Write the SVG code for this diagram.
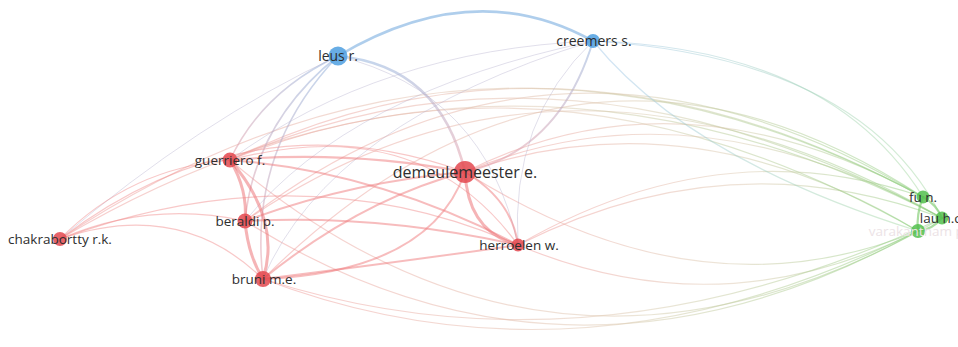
<svg xmlns="http://www.w3.org/2000/svg" width="958" height="347" viewBox="0 0 958 347">
<defs>
<linearGradient id="rg" x1="0" y1="0" x2="1" y2="0">
<stop offset="0" stop-color="#f19a9a"/>
<stop offset="0.55" stop-color="#dcc9b0"/>
<stop offset="1" stop-color="#8fd080"/>
</linearGradient>
<linearGradient id="bg" x1="0" y1="0" x2="1" y2="0">
<stop offset="0" stop-color="#9cc4ea"/>
<stop offset="1" stop-color="#9fd69a"/>
</linearGradient>
<linearGradient id="rb" x1="0" y1="1" x2="0" y2="0">
<stop offset="0" stop-color="#e9a0a8"/>
<stop offset="1" stop-color="#94b4de"/>
</linearGradient>
<style>
path{fill:none;stroke-linecap:round}
.r1{stroke:#f08486;stroke-width:1.2;opacity:.45}
.r2{stroke:#f07a7c;stroke-width:2;opacity:.5}
.r3{stroke:#ec6a6e;stroke-width:3;opacity:.5}
.rg{stroke:url(#rg);stroke-width:1.2;opacity:.5}
.bg{stroke:url(#bg);stroke-width:1.2;opacity:.45}
.rb{stroke:url(#rb);stroke-width:1.6;opacity:.55}
.rbt{stroke:#b4b0cc;stroke-width:1;opacity:.4}
.b3{stroke:#94bde6;stroke-width:2.6;opacity:.75}
.g2{stroke:#7fcc72;stroke-width:2.2;opacity:.65}
.nr{fill:#e3484f;opacity:.85}
.nb{fill:#4d9fe0;opacity:.85}
.ng{fill:#52bf4e;opacity:.85}
text{font-family:"Open Sans","Liberation Sans",sans-serif;font-size:13.5px;fill:#2e2e2e;text-anchor:middle}
</style>
</defs>
<g id="connectors">
<path class="rg" d="M230,160 Q560,0 923,197"/>
<path class="rg" d="M230,160 Q560,12 942,218"/>
<path class="rg" d="M230,160 Q560,28 918,231"/>
<path class="rg" d="M245,221 Q560,-22 923,197"/>
<path class="rg" d="M245,221 Q565,2 942,218"/>
<path class="rg" d="M263,279 Q575,-30 923,197"/>
<path class="rg" d="M60,239 Q480,-40 923,197"/>
<path class="rg" d="M60,239 Q490,-16 942,218"/>
<path class="rg" d="M465,172 Q680,64 923,197"/>
<path class="rg" d="M465,172 Q690,78 942,218"/>
<path class="rg" d="M465,172 Q690,94 918,231"/>
<path class="rg" d="M518,245 Q720,128 923,197"/>
<path class="rg" d="M518,245 Q730,138 942,218"/>
<path class="rg" d="M518,245 Q720,330 918,231"/>
<path class="rg" d="M465,172 Q700,320 918,231"/>
<path class="rg" d="M263,279 Q580,400 918,231"/>
<path class="rg" d="M263,279 Q590,384 942,218"/>
<path class="rg" d="M245,221 Q570,424 918,231"/>
<path class="rg" d="M230,160 Q560,440 942,218"/>
<path class="b3" d="M338,56 Q474,-25 593,41"/>
<path class="rb" d="M338,56 Q440,66 465,172" style="stroke-width:2.6"/>
<path class="rbt" d="M338,56 Q485,92 518,245"/>
<path class="rb" d="M593,41 Q560,150 465,172" style="stroke-width:2"/>
<path class="rbt" d="M593,41 Q510,120 518,245"/>
<path class="rb" d="M338,56 Q262,92 230,160"/>
<path class="rb" d="M338,56 Q255,122 245,221"/>
<path class="rb" d="M338,56 Q248,150 263,279"/>
<path class="rbt" d="M593,41 Q380,50 230,160"/>
<path class="rbt" d="M593,41 Q350,92 245,221"/>
<path class="rbt" d="M593,41 Q330,122 263,279"/>
<path class="rbt" d="M60,239 Q200,120 338,56"/>
<path class="bg" d="M593,41 Q830,48 923,197"/>
<path class="bg" d="M593,41 Q862,58 942,218"/>
<path class="bg" d="M593,41 Q690,160 918,231"/>
<path class="r3" d="M230,160 Q248,190 245,221"/>
<path class="r3" d="M230,160 Q282,220 263,279"/>
<path class="r3" d="M245,221 Q248,255 263,279"/>
<path class="r2" d="M230,160 Q350,150 465,172"/>
<path class="r2" d="M230,160 Q380,172 518,245"/>
<path class="r2" d="M245,221 Q350,182 465,172"/>
<path class="r2" d="M245,221 Q380,214 518,245"/>
<path class="r2" d="M263,279 Q430,272 465,172"/>
<path class="r2" d="M263,279 Q360,200 465,172"/>
<path class="r2" d="M263,279 Q400,262 518,245"/>
<path class="r3" d="M465,172 Q468,232 518,245"/>
<path class="r2" d="M465,172 Q512,200 518,245"/>
<path class="r1" d="M60,239 Q130,168 230,160"/>
<path class="r1" d="M60,239 Q150,200 245,221"/>
<path class="r1" d="M60,239 Q180,198 263,279"/>
<path class="r1" d="M60,239 Q250,95 465,172"/>
<path class="r1" d="M60,239 Q300,150 518,245"/>
<path class="r1" d="M230,160 Q420,110 518,245"/>
<path class="g2" d="M923,197 Q936,204 942,218"/>
<path class="g2" d="M923,197 Q916,215 918,231"/>
<path class="g2" d="M918,231 Q932,230 942,218"/>
</g>
<g id="node-chakrabortty"><circle class="nr" cx="60" cy="239" r="7"/><text x="60" y="244">chakrabortty r.k.</text></g>
<g id="node-guerriero"><circle class="nr" cx="230" cy="160" r="7.5"/><text x="230" y="165">guerriero f.</text></g>
<g id="node-beraldi"><circle class="nr" cx="245" cy="221" r="7.5"/><text x="245" y="226">beraldi p.</text></g>
<g id="node-bruni"><circle class="nr" cx="263" cy="279" r="8"/><text x="264" y="284">bruni m.e.</text></g>
<g id="node-demeulemeester"><circle class="nr" cx="465" cy="172" r="11"/><text x="465" y="178" style="font-size:16px">demeulemeester e.</text></g>
<g id="node-herroelen"><circle class="nr" cx="518" cy="245" r="6.5"/><text x="519" y="250">herroelen w.</text></g>
<g id="node-leus"><circle class="nb" cx="338" cy="56" r="9.5"/><text x="338" y="61" style="font-size:14px">leus r.</text></g>
<g id="node-creemers"><circle class="nb" cx="593" cy="41" r="7"/><text x="594" y="46" style="font-size:14px">creemers s.</text></g>
<g id="node-varakantham"><circle class="ng" cx="918" cy="231" r="7"/><text x="918" y="236" style="fill:#ece3e6">varakantham p.</text></g>
<g id="node-fu"><circle class="ng" cx="923" cy="197" r="6.5"/><text x="923" y="202">fu n.</text></g>
<g id="node-lau"><circle class="ng" cx="942" cy="218" r="6.5"/><text x="942" y="223">lau h.c.</text></g>
</svg>
